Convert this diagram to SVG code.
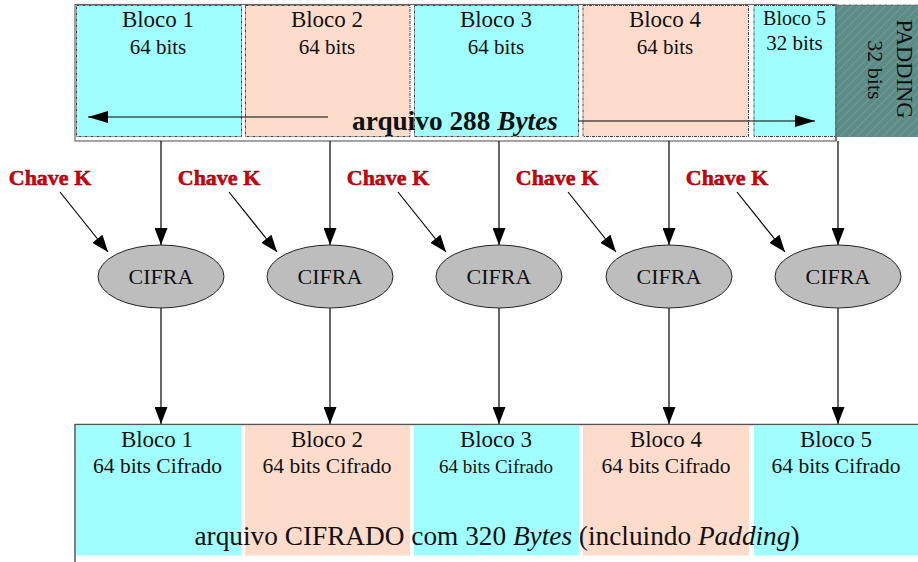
<svg xmlns="http://www.w3.org/2000/svg" width="918" height="562" viewBox="0 0 918 562">
<defs>
<marker id="ah" markerUnits="userSpaceOnUse" viewBox="0 0 17 13" refX="17" refY="6.5" markerWidth="17" markerHeight="13" orient="auto">
<path d="M0,0 L17,6.5 L0,13 z" fill="#000"/>
</marker>
<marker id="ah2" markerUnits="userSpaceOnUse" viewBox="0 0 20 12" refX="20" refY="6" markerWidth="20" markerHeight="12" orient="auto">
<path d="M0,0 L20,6 L0,12 z" fill="#000"/>
</marker>
<pattern id="hatch" patternUnits="userSpaceOnUse" width="6" height="6" patternTransform="rotate(45)">
<rect width="6" height="6" fill="#5d8c86"/>
<line x1="0" y1="0" x2="0" y2="6" stroke="#86aaa5" stroke-width="1"/>
</pattern>
</defs>
<style>
.t{font-family:"Liberation Serif","Times New Roman",serif;fill:#111;text-anchor:middle}
.cy{fill:#a0fefe}
.pe{fill:#fddccc}
.blk{stroke:#444;stroke-width:1;stroke-dasharray:3,1,1,1}
.ell{fill:#bdbdbd;stroke:#222;stroke-width:1}
.key{font-family:"Liberation Serif","Times New Roman",serif;font-weight:bold;font-size:22px;fill:#d40010;stroke:#8a0000;stroke-width:0.5;text-anchor:middle}
.ln{stroke:#000;stroke-width:1.2;fill:none}
</style>
<rect width="918" height="562" fill="#fff"/>

<g id="arquivo-original">
<rect x="75" y="4.5" width="761" height="136.5" fill="#fff" stroke="#666" stroke-width="1.2"/>
</g>
<g id="bloco1">
<rect x="76.5" y="5.5" width="165" height="131" class="cy blk"/>
<text class="t" x="158" y="27" font-size="23">Bloco 1</text>
<text class="t" x="158" y="54" font-size="21">64 bits</text>
</g>
<g id="bloco2">
<rect x="245.5" y="5.5" width="164.5" height="131" class="pe blk"/>
<text class="t" x="327" y="27" font-size="23">Bloco 2</text>
<text class="t" x="327" y="54" font-size="21">64 bits</text>
</g>
<g id="bloco3">
<rect x="414.5" y="5.5" width="164" height="131" class="cy blk"/>
<text class="t" x="496" y="27" font-size="23">Bloco 3</text>
<text class="t" x="496" y="54" font-size="21">64 bits</text>
</g>
<g id="bloco4">
<rect x="583" y="5.5" width="165.5" height="131" class="pe blk"/>
<text class="t" x="665" y="27" font-size="23">Bloco 4</text>
<text class="t" x="665" y="54" font-size="21">64 bits</text>
</g>
<g id="bloco5">
<rect x="754" y="5.5" width="82" height="131" class="cy blk"/>
<line x1="836" y1="4.5" x2="836" y2="141" stroke="#444" stroke-width="1"/>
<text class="t" x="794.5" y="25" font-size="20">Bloco 5</text>
<text class="t" x="794.5" y="50" font-size="21">32 bits</text>
</g>
<g id="padding">
<rect x="836.5" y="5" width="82" height="132" fill="url(#hatch)"/>
<line x1="836.5" y1="5" x2="918" y2="5" stroke="#666" stroke-width="1" stroke-dasharray="3,1,1,1"/>
<text class="t" font-size="22.5" transform="translate(897,69) rotate(90)">PADDING</text>
<text class="t" font-size="22" transform="translate(868,70) rotate(90)">32 bits</text>
</g>
<g id="rotulo-arquivo">
<text class="t" x="455" y="130" font-size="27.3" font-weight="bold">arquivo 288 <tspan font-style="italic">Bytes</tspan></text>
</g>

<g id="connectors">
<line class="ln" x1="328" y1="117" x2="88" y2="117" marker-end="url(#ah2)"/>
<line class="ln" x1="578" y1="121" x2="815" y2="121" marker-end="url(#ah2)"/>
<line class="ln" x1="161" y1="141" x2="161" y2="245" marker-end="url(#ah)"/>
<line class="ln" x1="330" y1="141" x2="330" y2="245" marker-end="url(#ah)"/>
<line class="ln" x1="499" y1="141" x2="499" y2="245" marker-end="url(#ah)"/>
<line class="ln" x1="669" y1="141" x2="669" y2="245" marker-end="url(#ah)"/>
<line class="ln" x1="838" y1="141" x2="838" y2="245" marker-end="url(#ah)"/>
<line class="ln" x1="60" y1="192" x2="108" y2="252" marker-end="url(#ah)"/>
<line class="ln" x1="229" y1="192" x2="277" y2="252" marker-end="url(#ah)"/>
<line class="ln" x1="398" y1="192" x2="446" y2="252" marker-end="url(#ah)"/>
<line class="ln" x1="568" y1="192" x2="616" y2="252" marker-end="url(#ah)"/>
<line class="ln" x1="737" y1="192" x2="785" y2="252" marker-end="url(#ah)"/>
<line class="ln" x1="161" y1="308" x2="161" y2="424" marker-end="url(#ah)"/>
<line class="ln" x1="330" y1="308" x2="330" y2="424" marker-end="url(#ah)"/>
<line class="ln" x1="499" y1="308" x2="499" y2="424" marker-end="url(#ah)"/>
<line class="ln" x1="669" y1="308" x2="669" y2="424" marker-end="url(#ah)"/>
<line class="ln" x1="838" y1="308" x2="838" y2="424" marker-end="url(#ah)"/>
</g>

<g id="chave1"><text class="key" x="50" y="185">Chave K</text></g>
<g id="chave2"><text class="key" x="219" y="185">Chave K</text></g>
<g id="chave3"><text class="key" x="388" y="185">Chave K</text></g>
<g id="chave4"><text class="key" x="557" y="185">Chave K</text></g>
<g id="chave5"><text class="key" x="727" y="185">Chave K</text></g>

<g id="cifra1"><ellipse class="ell" cx="161" cy="276.5" rx="63" ry="31.5"/><text class="t" x="161" y="284" font-size="22">CIFRA</text></g>
<g id="cifra2"><ellipse class="ell" cx="330" cy="276.5" rx="63" ry="31.5"/><text class="t" x="330" y="284" font-size="22">CIFRA</text></g>
<g id="cifra3"><ellipse class="ell" cx="499" cy="276.5" rx="63" ry="31.5"/><text class="t" x="499" y="284" font-size="22">CIFRA</text></g>
<g id="cifra4"><ellipse class="ell" cx="669" cy="276.5" rx="63" ry="31.5"/><text class="t" x="669" y="284" font-size="22">CIFRA</text></g>
<g id="cifra5"><ellipse class="ell" cx="838" cy="276.5" rx="63" ry="31.5"/><text class="t" x="838" y="284" font-size="22">CIFRA</text></g>

<g id="arquivo-cifrado">
<path d="M75,562 L75,424.5 L918,424.5" fill="none" stroke="#555" stroke-width="1.5"/>
</g>
<g id="cbloco1">
<rect x="76" y="425.5" width="165" height="130" class="cy"/>
<text class="t" x="157" y="447" font-size="23">Bloco 1</text>
<text class="t" x="157.5" y="473" font-size="21.5">64 bits Cifrado</text>
</g>
<g id="cbloco2">
<rect x="245" y="425.5" width="165" height="130" class="pe"/>
<text class="t" x="327" y="447" font-size="23">Bloco 2</text>
<text class="t" x="327" y="473" font-size="21.5">64 bits Cifrado</text>
</g>
<g id="cbloco3">
<rect x="414" y="425.5" width="165" height="130" class="cy"/>
<text class="t" x="496" y="447" font-size="23">Bloco 3</text>
<text class="t" x="496" y="473" font-size="19">64 bits Cifrado</text>
</g>
<g id="cbloco4">
<rect x="583" y="425.5" width="166" height="130" class="pe"/>
<text class="t" x="666" y="447" font-size="23">Bloco 4</text>
<text class="t" x="666" y="473" font-size="21.5">64 bits Cifrado</text>
</g>
<g id="cbloco5">
<rect x="754" y="425.5" width="164" height="130" class="cy"/>
<text class="t" x="836" y="447" font-size="23">Bloco 5</text>
<text class="t" x="836" y="473" font-size="21.5">64 bits Cifrado</text>
</g>
<g id="rotulo-cifrado">
<text class="t" x="497" y="545" font-size="27.3">arquivo CIFRADO com 320 <tspan font-style="italic">Bytes</tspan> (incluindo <tspan font-style="italic">Padding</tspan>)</text>
</g>
</svg>
